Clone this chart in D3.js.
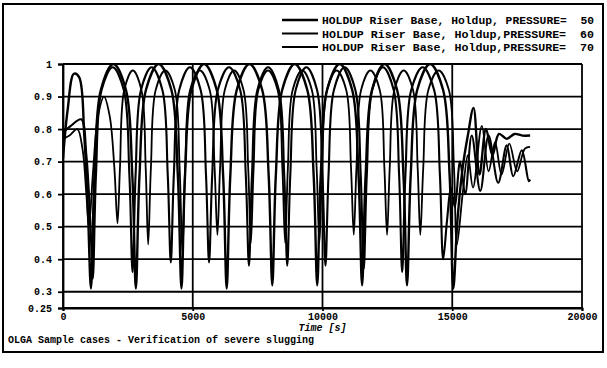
<!DOCTYPE html>
<html>
<head>
<meta charset="utf-8">
<script src="https://cdn.jsdelivr.net/npm/d3@7"></script>
<style>
  body { margin: 0; background: #fff; }
  text { font-family: "Liberation Mono", "DejaVu Sans Mono", monospace; font-weight: bold; fill: #000; white-space: pre; }
</style>
</head>
<body>
<script>
// legend + axes
var legendLabels = ["HOLDUP Riser Base, Holdup, PRESSURE=  50",
                    "HOLDUP Riser Base, Holdup,PRESSURE=  60",
                    "HOLDUP Riser Base, Holdup,PRESSURE=  70"];
var yTicks = [0.25, 0.3, 0.4, 0.5, 0.6, 0.7, 0.8, 0.9, 1];
var xTicks = [0, 5000, 10000, 15000, 20000];
var xTitle = "Time [s]";
var caption = "OLGA Sample cases - Verification of severe slugging";

// series 1 (pressure 50)
var timeA = [0, 180, 420, 620, 820, 960, 1077,
  1215, 1458, 1943, 2427, 2670, 2808,
  2949, 3195, 3687, 4178, 4424, 4565,
  4704, 4948, 5437, 5925, 6169, 6308,
  6449, 6695, 7187, 7678, 7924, 8065,
  8203, 8446, 8931, 9415, 9658, 9796,
  9934, 10177, 10661, 11145, 11388, 11526,
  11664, 11907, 12392, 12876, 13119, 13257,
  13400, 13649, 14149, 14648, 14897, 15040,
  15200, 15400, 15600, 15820, 16050, 16300, 16550, 16800, 17100, 17400, 17700, 18000];
var holdupA = [0.71, 0.86, 0.97, 0.96, 0.78, 0.55, 0.31,
  0.66, 0.92, 1.0, 0.92, 0.66, 0.31,
  0.66, 0.92, 1.0, 0.92, 0.66, 0.31,
  0.66, 0.92, 1.0, 0.92, 0.66, 0.31,
  0.66, 0.92, 1.0, 0.92, 0.66, 0.32,
  0.66, 0.92, 1.0, 0.92, 0.66, 0.32,
  0.66, 0.92, 1.0, 0.92, 0.66, 0.32,
  0.66, 0.92, 1.0, 0.92, 0.66, 0.32,
  0.66, 0.92, 1.0, 0.92, 0.66, 0.31,
  0.52, 0.68, 0.78, 0.865, 0.66, 0.80, 0.72, 0.785, 0.77, 0.785, 0.78, 0.78];

// series 2 (pressure 60)
var timeB = [0, 300, 700, 900, 1060, 1150,
  1272, 1487, 1915, 2343, 2558, 2680,
  2798, 3004, 3417, 3830, 4036, 4154,
  4272, 4478, 4891, 5304, 5510, 5628,
  5751, 5966, 6397, 6828, 7043, 7166,
  7284, 7491, 7904, 8317, 8524, 8642,
  8760, 8966, 9379, 9790, 9997, 10115,
  10233, 10440, 10853, 11266, 11472, 11590,
  11708, 11916, 12330, 12744, 12952, 13070,
  13196, 13418, 13860, 14302, 14524, 14650,
  14800, 14950, 15100, 15300, 15500, 15750, 16080, 16400, 16770, 17100, 17350, 17680, 17950, 18000];
var holdupB = [0.79, 0.81, 0.83, 0.72, 0.5, 0.34,
  0.66, 0.92, 0.99, 0.92, 0.66, 0.36,
  0.66, 0.92, 0.99, 0.92, 0.66, 0.39,
  0.66, 0.92, 0.99, 0.92, 0.66, 0.39,
  0.66, 0.92, 0.99, 0.92, 0.66, 0.38,
  0.66, 0.92, 0.99, 0.92, 0.66, 0.38,
  0.66, 0.92, 0.99, 0.92, 0.66, 0.38,
  0.66, 0.92, 0.99, 0.92, 0.66, 0.37,
  0.66, 0.92, 0.99, 0.92, 0.66, 0.36,
  0.66, 0.92, 0.99, 0.92, 0.66, 0.40,
  0.52, 0.62, 0.56, 0.70, 0.60, 0.78, 0.61, 0.78, 0.635, 0.75, 0.655, 0.735, 0.64, 0.645];

// series 3 (pressure 70)
var timeC = [0, 250, 550, 750, 900, 1000,
  1150, 1350, 1580, 1800, 1980, 2100,
  2195, 2360, 2691, 3022, 3187, 3282,
  3387, 3572, 3941, 4310, 4495, 4600,
  4708, 4897, 5275, 5653, 5842, 5950,
  6053, 6234, 6595, 6956, 7137, 7240,
  7346, 7530, 7900, 8270, 8454, 8560,
  8666, 8850, 9220, 9590, 9774, 9880,
  9986, 10172, 10543, 10914, 11099, 11205,
  11308, 11487, 11847, 12206, 12385, 12488,
  12590, 12770, 13129, 13489, 13668, 13769,
  13882, 14079, 14475, 14870, 15067, 15180,
  15400, 15600, 15800, 16140, 16400, 16650, 16900, 17200, 17500, 17800, 18000];
var holdupC = [0.77, 0.78, 0.80, 0.74, 0.60, 0.50,
  0.66, 0.84, 0.90, 0.84, 0.68, 0.51,
  0.68, 0.92, 0.98, 0.92, 0.68, 0.445,
  0.68, 0.92, 0.98, 0.92, 0.68, 0.42,
  0.68, 0.92, 0.98, 0.92, 0.68, 0.475,
  0.68, 0.92, 0.98, 0.92, 0.68, 0.45,
  0.68, 0.92, 0.98, 0.92, 0.68, 0.45,
  0.68, 0.92, 0.98, 0.92, 0.68, 0.45,
  0.68, 0.92, 0.98, 0.92, 0.68, 0.475,
  0.68, 0.92, 0.98, 0.92, 0.68, 0.475,
  0.68, 0.92, 0.98, 0.92, 0.68, 0.475,
  0.68, 0.92, 0.98, 0.92, 0.68, 0.445,
  0.60, 0.72, 0.62, 0.81, 0.67, 0.76, 0.66, 0.755, 0.67, 0.74, 0.745];

var w = 607, h = 368;
var plotLeft = 63, plotRight = 582, plotTop = 64, plotBottom = 308;

var svg = d3.select("body").append("svg")
  .attr("width", w)
  .attr("height", h);

// outer frame
svg.append("rect")
  .attr("x", 3).attr("y", 4)
  .attr("width", 600).attr("height", 348)
  .attr("fill", "none").attr("stroke", "#000").attr("stroke-width", 2);

var x = d3.scaleLinear().domain([0, 20000]).range([plotLeft, plotRight]);
var y = d3.scaleLinear().domain([0.25, 1]).range([plotBottom, plotTop]);

// grid
svg.append("g").selectAll("line")
  .data(yTicks)
  .enter().append("line")
  .attr("x1", plotLeft).attr("x2", plotRight)
  .attr("y1", function(d) { return y(d); })
  .attr("y2", function(d) { return y(d); })
  .attr("stroke", "#000").attr("stroke-width", 1.8);

svg.append("g").selectAll("line")
  .data(xTicks)
  .enter().append("line")
  .attr("y1", plotTop).attr("y2", plotBottom)
  .attr("x1", function(d) { return x(d); })
  .attr("x2", function(d) { return x(d); })
  .attr("stroke", "#000").attr("stroke-width", 1.8);

// axes
var yAxis = d3.axisLeft(y).tickValues(yTicks).tickSize(5).tickPadding(6)
  .tickFormat(function(d) { return String(d); });
var gy = svg.append("g").attr("transform", "translate(" + plotLeft + ",0)").call(yAxis);
gy.select(".domain").attr("stroke-width", 1.8);
gy.selectAll(".tick line").attr("stroke-width", 1.8);
gy.selectAll("text").style("font-size", "10px").attr("font-family", null);

var xAxis = d3.axisBottom(x).tickValues(xTicks).tickSize(3).tickPadding(2)
  .tickFormat(function(d) { return String(d); });
var gx = svg.append("g").attr("transform", "translate(0," + plotBottom + ")").call(xAxis);
gx.select(".domain").attr("stroke-width", 1.8);
gx.selectAll(".tick line").attr("stroke-width", 1.8);
gx.selectAll("text").style("font-size", "10px").attr("font-family", null);

// series
var series = [
  { t: timeA, v: holdupA, sw: 2.4 },
  { t: timeB, v: holdupB, sw: 2.1 },
  { t: timeC, v: holdupC, sw: 1.8 }
];

svg.append("clipPath").attr("id", "plot")
  .append("rect").attr("x", plotLeft).attr("y", plotTop - 1)
  .attr("width", plotRight - plotLeft).attr("height", plotBottom - plotTop + 1);

var line = d3.line()
  .x(function(d) { return x(d[0]); })
  .y(function(d) { return y(d[1]); })
  .curve(d3.curveCatmullRom.alpha(0.5));

svg.append("g").attr("clip-path", "url(#plot)")
  .selectAll("path")
  .data(series)
  .enter().append("path")
  .attr("d", function(s) { return line(s.t.map(function(t, i) { return [t, s.v[i]]; })); })
  .attr("fill", "none")
  .attr("stroke", "#000")
  .attr("stroke-width", function(s) { return s.sw; })
  .attr("stroke-linejoin", "round");

// legend
var lg = svg.append("g").selectAll("g")
  .data(legendLabels)
  .enter().append("g")
  .attr("transform", function(d, i) { return "translate(282," + (20 + i * 13.5) + ")"; });
lg.append("line")
  .attr("x1", 0).attr("x2", 36)
  .attr("stroke", "#000")
  .attr("stroke-width", function(d, i) { return series[i].sw; });
lg.append("text")
  .attr("x", 40).attr("dy", "0.35em")
  .attr("textLength", 272).attr("lengthAdjust", "spacingAndGlyphs")
  .style("font-size", "11.5px")
  .text(function(d) { return d; });

// titles
svg.append("text")
  .attr("x", (plotLeft + plotRight) / 2).attr("y", 331)
  .attr("text-anchor", "middle")
  .style("font-size", "10px")
  .style("font-style", "italic")
  .text(xTitle);

svg.append("text")
  .attr("x", 8).attr("y", 343)
  .style("font-size", "10px")
  .text(caption);
</script>
</body>
</html>
